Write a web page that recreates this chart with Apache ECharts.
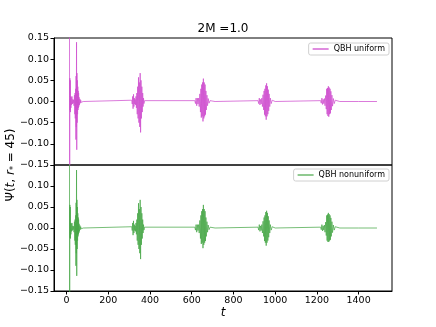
<!DOCTYPE html>
<html>
<head>
<meta charset="utf-8">
<script src="https://cdn.jsdelivr.net/npm/echarts@6/dist/echarts.min.js"></script>
<style>
  html, body { margin: 0; padding: 0; background: #fff; }
  #myChart { width: 436px; height: 327px; }
</style>
</head>
<body>
<div id="myChart"></div>
<script>
// sample times (shared by both runs)
const times = [
  14, 15, 16, 17, 18, 19, 20, 21, 22, 24, 26, 28, 30, 32, 34, 36, 38, 40, 41, 42, 43, 44,
  45, 46, 47, 48, 49, 50, 51, 52, 53, 54, 55, 56, 57, 58, 59, 60, 62, 64, 66, 68, 70, 72, 75, 80,
  313, 315, 317, 319, 321, 323, 325, 327, 329, 331, 333, 335, 337, 339, 341, 343, 345, 347, 349,
  351, 353, 355, 357, 359, 361, 363, 365, 367, 369, 371, 374, 378,
  615, 618, 621, 624, 627, 630, 633, 636, 639, 642, 644, 646, 648, 650, 652, 654, 656, 658, 660,
  662, 664, 666, 668, 670, 673, 676, 679, 683, 688, 695, 712,
  918, 921, 924, 927, 930, 933, 936, 939, 942, 945, 947, 949, 951, 953, 955, 957, 959, 961, 963,
  965, 967, 969, 971, 974, 977, 981, 986, 992, 1000,
  1218, 1221, 1224, 1227, 1230, 1233, 1236, 1239, 1242, 1245, 1247, 1249, 1251, 1253, 1255, 1257,
  1259, 1261, 1263, 1265, 1267, 1269, 1272, 1275, 1279, 1283, 1288, 1295, 1310, 1400, 1488
];

// QBH uniform
const psiUniform = [
  0.40, -0.40, 0.055, -0.02, 0.05, -0.025, 0.012, -0.015, 0.01, -0.008, 0.012, -0.006, 0.005, -0.004,
  0.004, -0.01, 0.015, -0.03, 0.02, -0.04, 0.01, 0.03,
  -0.09, 0.06, -0.06, 0.14, -0.114, 0.067, -0.05, 0.05, -0.03, 0.035, -0.02, 0.025, -0.015, 0.02,
  -0.012, 0.01, -0.008, 0.006, -0.004, 0.003, -0.002, 0.001, 0, 0,
  0.003, -0.006, 0.012, -0.017, 0.017, -0.012, 0.008, -0.006, 0.005, -0.008, 0.012, -0.015, 0.02,
  -0.03, 0.035, -0.04, 0.057, -0.05, 0.045, -0.06, 0.067, -0.073, 0.05, -0.04, 0.035, -0.025,
  0.02, -0.012, 0.008, -0.005, 0.002, 0,
  0.002, -0.005, 0.008, -0.01, 0.008, -0.006, 0.008, -0.012, 0.018, -0.025, 0.03, -0.038, 0.04,
  -0.035, 0.045, -0.047, 0.054, -0.04, 0.045, -0.035, 0.04, -0.031, 0.025, -0.02, 0.015, -0.01,
  0.007, -0.004, 0.002, -0.001, 0,
  0.002, -0.005, 0.008, -0.008, 0.005, -0.006, 0.008, -0.012, 0.016, -0.02, 0.025, -0.031, 0.03,
  -0.035, 0.038, -0.043, 0.043, -0.035, 0.036, -0.03, 0.028, -0.022, 0.018, -0.012, 0.008, -0.005,
  0.003, -0.001, 0,
  0.002, -0.004, 0.008, -0.007, 0.005, -0.005, 0.007, -0.01, 0.014, -0.018, 0.03, -0.03, 0.032,
  -0.034, 0.036, -0.036, 0.033, -0.03, 0.03, -0.028, 0.024, -0.02, 0.015, -0.011, 0.007, -0.005,
  0.003, -0.001, 0, 0, 0
];

// QBH nonuniform
const psiNonuniform = [
  0.40, -0.40, 0.055, -0.023, 0.05, -0.025, 0.012, -0.015, 0.01, -0.008, 0.012, -0.006, 0.005, -0.004,
  0.004, -0.01, 0.015, -0.03, 0.02, -0.04, 0.01, 0.03,
  -0.09, 0.06, -0.06, 0.138, -0.114, 0.067, -0.05, 0.05, -0.03, 0.035, -0.02, 0.025, -0.015, 0.02,
  -0.012, 0.01, -0.008, 0.006, -0.004, 0.003, -0.002, 0.001, 0, 0,
  0.003, -0.006, 0.012, -0.017, 0.017, -0.012, 0.008, -0.006, 0.005, -0.008, 0.012, -0.015, 0.02,
  -0.03, 0.035, -0.04, 0.059, -0.05, 0.045, -0.06, 0.067, -0.074, 0.05, -0.04, 0.035, -0.025,
  0.02, -0.012, 0.008, -0.005, 0.002, 0,
  0.002, -0.005, 0.008, -0.01, 0.008, -0.006, 0.008, -0.012, 0.018, -0.025, 0.03, -0.038, 0.04,
  -0.035, 0.045, -0.048, 0.055, -0.04, 0.045, -0.035, 0.04, -0.031, 0.025, -0.02, 0.015, -0.01,
  0.007, -0.004, 0.002, -0.001, 0,
  0.002, -0.005, 0.008, -0.008, 0.005, -0.006, 0.008, -0.012, 0.016, -0.02, 0.025, -0.031, 0.03,
  -0.035, 0.038, -0.042, 0.041, -0.035, 0.036, -0.03, 0.028, -0.022, 0.018, -0.012, 0.008, -0.005,
  0.003, -0.001, 0,
  0.002, -0.004, 0.008, -0.007, 0.005, -0.005, 0.007, -0.01, 0.014, -0.018, 0.03, -0.03, 0.032,
  -0.033, 0.036, -0.033, 0.033, -0.03, 0.03, -0.028, 0.024, -0.02, 0.015, -0.011, 0.007, -0.005,
  0.003, -0.001, 0, 0, 0
];

const xTicks = [0, 200, 400, 600, 800, 1000, 1200, 1400];

let myChart = echarts.init(document.getElementById("myChart"));

const font = "DejaVu Sans";
const yFmt = function (v) {
  const r = Math.round(v * 100) / 100;
  return (r < 0 ? "\u2212" : "") + Math.abs(r).toFixed(2);
};
// lower panel: its top label sits under the upper panel's -0.15, so leave it out
const yFmtLower = function (v) {
  return v > 0.149 ? "" : yFmt(v);
};
const pairs = (ys) => times.map((t, i) => [t, ys[i]]);

const yAxisBase = {
  type: "value",
  min: -0.15,
  max: 0.15,
  interval: 0.05,
  axisLine: { show: true, onZero: false, lineStyle: { color: "#000", width: 1 } },
  axisTick: { show: true, inside: false, length: 3.5, lineStyle: { color: "#000" } },
  axisLabel: { color: "#000", fontSize: 9.5, fontFamily: font, margin: 5, formatter: yFmt },
  splitLine: { show: false },
};

let option = {
  animation: false,
  backgroundColor: "#fff",
  grid: [
    { left: 54, right: 44, top: 38, height: 127, show: true, borderColor: "#000", borderWidth: 1 },
    { left: 54, right: 44, top: 165, height: 126, show: true, borderColor: "#000", borderWidth: 1 },
  ],
  xAxis: [
    {
      type: "value", gridIndex: 0, min: -60, max: 1560,
      axisLine: { show: false, onZero: false }, axisTick: { show: false },
      axisLabel: { show: false }, splitLine: { show: false },
    },
    {
      type: "value", gridIndex: 1, min: -60, max: 1560,
      axisLine: { show: true, onZero: false, lineStyle: { color: "#000" } },
      axisTick: { show: true, length: 3.5, customValues: xTicks, lineStyle: { color: "#000" } },
      axisLabel: {
        color: "#000", fontSize: 9.5, fontFamily: font, margin: 5, customValues: xTicks,
        formatter: (v) => String(v),
      },
      splitLine: { show: false },
    },
  ],
  yAxis: [
    Object.assign({ gridIndex: 0 }, yAxisBase),
    Object.assign({}, yAxisBase, {
      gridIndex: 1,
      axisLabel: Object.assign({}, yAxisBase.axisLabel, { formatter: yFmtLower }),
    }),
  ],
  legend: [
    {
      data: ["QBH uniform"], right: 47, top: 43, orient: "vertical",
      icon: "rect", itemWidth: 16, itemHeight: 1.5, itemGap: 4,
      borderColor: "#d0d0d0", borderWidth: 1, borderRadius: 2, padding: [2, 4],
      textStyle: { fontSize: 8, fontFamily: font, color: "#000" },
    },
    {
      data: ["QBH nonuniform"], right: 47, top: 169, orient: "vertical",
      icon: "rect", itemWidth: 16, itemHeight: 1.5, itemGap: 4,
      borderColor: "#d0d0d0", borderWidth: 1, borderRadius: 2, padding: [2, 4],
      textStyle: { fontSize: 8, fontFamily: font, color: "#000" },
    },
  ],
  series: [
    {
      name: "QBH uniform", type: "line", xAxisIndex: 0, yAxisIndex: 0,
      data: pairs(psiUniform), showSymbol: false, symbol: "none",
      color: "#d466d4",
      lineStyle: { width: 1, color: "#cf4fcf", opacity: 0.75 },
    },
    {
      name: "QBH nonuniform", type: "line", xAxisIndex: 1, yAxisIndex: 1,
      data: pairs(psiNonuniform), showSymbol: false, symbol: "none",
      color: "#6cb86c",
      lineStyle: { width: 1, color: "#4aa84a", opacity: 0.75 },
    },
  ],
  graphic: [
    {
      type: "text", x: 223, y: 29,
      style: { text: "2M =1.0", fontSize: 12, fontFamily: font, fill: "#000", textAlign: "center", textVerticalAlign: "middle" },
    },
    {
      type: "text", x: 223, y: 313,
      style: { text: "t", fontSize: 12, fontStyle: "italic", fontFamily: font, fill: "#000", textAlign: "center", textVerticalAlign: "middle" },
    },
    {
      type: "text", x: 11, y: 165, rotation: Math.PI / 2,
      style: {
        text: "\u03a8({i|t}, {i|r}{s|*} = 45)",
        fontSize: 12, fontFamily: font, fill: "#000",
        textAlign: "center", textVerticalAlign: "middle",
        rich: {
          i: { fontSize: 12, fontStyle: "italic", fontFamily: font },
          s: { fontSize: 8, fontFamily: font, verticalAlign: "bottom", padding: [6, 0, 0, 0] },
        },
      },
    },
  ],
};

myChart.setOption(option);
</script>
</body>
</html>
